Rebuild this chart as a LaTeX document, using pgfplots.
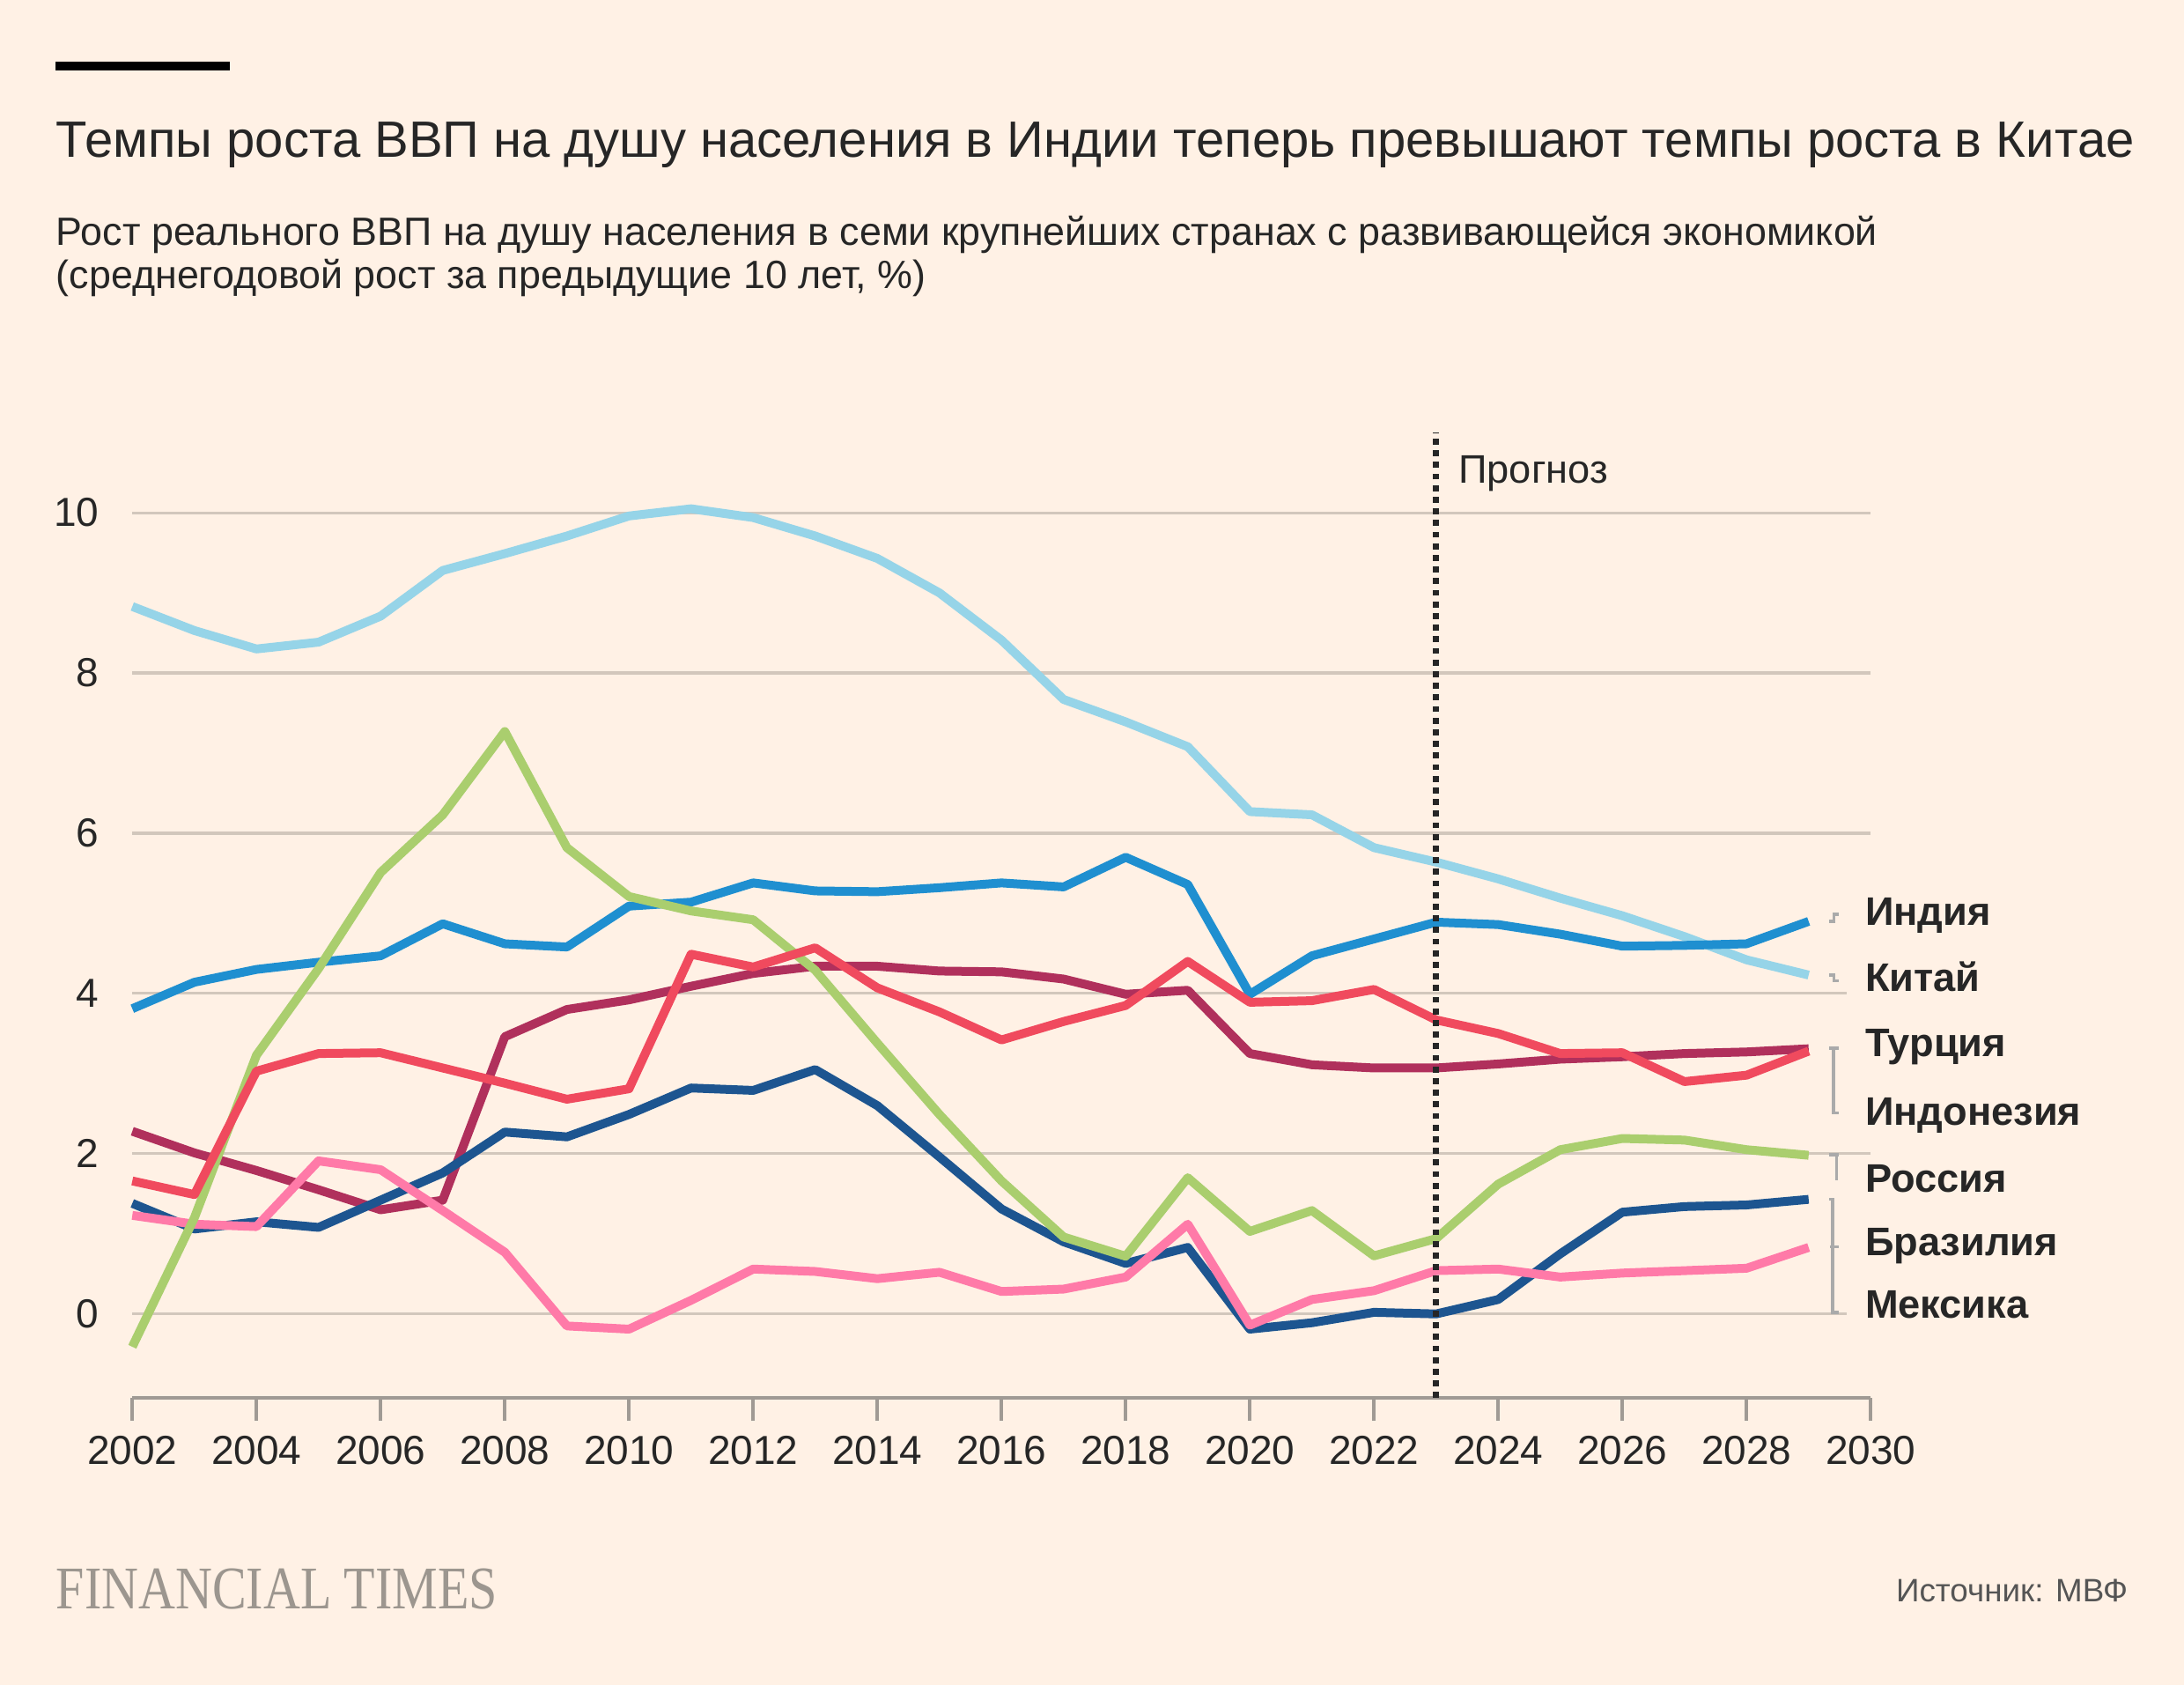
\documentclass[border=0pt]{standalone}
\usepackage{fontspec}
\setmainfont{Liberation Sans}
\newfontfamily\ftserif{Liberation Serif}
\usepackage{pgfplots}
\usepackage{pgfplotstable}
\pgfplotsset{compat=1.18}
\definecolor{bg}{HTML}{FFF1E5}
\definecolor{txt}{HTML}{262626}
\definecolor{gridc}{HTML}{D2C7BC}
\definecolor{axisc}{HTML}{A09A94}
\definecolor{conn}{HTML}{AAAAAA}
\definecolor{chinac}{HTML}{96D4E8}
\definecolor{indiac}{HTML}{1F8FD0}
\definecolor{turkeyc}{HTML}{F04A5E}
\definecolor{indoc}{HTML}{B0305C}
\definecolor{russiac}{HTML}{AACE6E}
\definecolor{mexicoc}{HTML}{1D5590}
\definecolor{brazilc}{HTML}{FF7AA8}
\definecolor{ftgray}{HTML}{9C968F}
\definecolor{srcgray}{HTML}{555555}

\pgfplotstableread{
year china india turkey indo russia mexico brazil
2002 8.83 3.81 1.66 2.28 -0.41 1.38 1.23
2003 8.53 4.14 1.49 2.01 1.20 1.06 1.12
2004 8.30 4.30 3.03 1.79 3.23 1.15 1.09
2005 8.385 4.39 3.25 1.55 4.31 1.08 1.91
2006 8.71 4.47 3.26 1.30 5.51 1.42 1.80
2007 9.28 4.87 3.07 1.42 6.23 1.76 1.29
2008 9.49 4.62 2.88 3.46 7.27 2.27 0.77
2009 9.71 4.58 2.68 3.80 5.82 2.21 -0.15
2010 9.96 5.09 2.81 3.92 5.21 2.49 -0.19
2011 10.05 5.14 4.49 4.09 5.03 2.82 0.17
2012 9.94 5.38 4.33 4.25 4.92 2.79 0.56
2013 9.71 5.28 4.57 4.34 4.29 3.05 0.53
2014 9.43 5.27 4.07 4.34 3.38 2.60 0.44
2015 9.00 5.32 3.77 4.28 2.49 1.96 0.52
2016 8.41 5.38 3.42 4.27 1.66 1.31 0.28
2017 7.67 5.33 3.65 4.18 0.96 0.90 0.31
2018 7.39 5.70 3.85 3.99 0.72 0.63 0.46
2019 7.08 5.36 4.40 4.04 1.70 0.83 1.12
2020 6.27 3.99 3.89 3.25 1.03 -0.19 -0.14
2021 6.23 4.47 3.91 3.11 1.29 -0.11 0.18
2022 5.82 4.68 4.05 3.07 0.725 0.02 0.29
2023 5.64 4.89 3.67 3.07 0.94 0.00 0.54
2024 5.43 4.86 3.50 3.12 1.62 0.18 0.56
2025 5.19 4.74 3.25 3.18 2.05 0.75 0.46
2026 4.97 4.59 3.26 3.21 2.19 1.27 0.51
2027 4.71 4.60 2.90 3.25 2.17 1.34 0.54
2028 4.42 4.62 2.98 3.27 2.05 1.36 0.57
2029 4.23 4.90 3.28 3.31 1.98 1.43 0.83
}\gdpdata

\begin{document}
\begin{tikzpicture}
\path[use as bounding box, fill=bg] (0,0) rectangle (620pt,-478.25pt);
\fill[black] (15.8pt,-17.6pt) rectangle (65.2pt,-20.0pt);
\node[anchor=base west, inner sep=0pt, text=txt, font=\fontsize{14.5}{17}\selectfont] at (15.8pt,-44.7pt) {Темпы роста ВВП на душу населения в Индии теперь превышают темпы роста в Китае};
\node[anchor=base west, inner sep=0pt, text=txt, font=\fontsize{11.2}{13}\selectfont] at (15.8pt,-69.6pt) {Рост реального ВВП на душу населения в семи крупнейших странах с развивающейся экономикой};
\node[anchor=base west, inner sep=0pt, text=txt, font=\fontsize{11.2}{13}\selectfont] at (15.8pt,-81.9pt) {(среднегодовой рост за предыдущие 10 лет, \%)};
\node[anchor=base west, inner sep=0pt, text=ftgray, font=\ftserif\fontsize{17.2}{19}\selectfont] at (15.8pt,-456.5pt) {\scalebox{0.843}[1]{FINANCIAL TIMES}};
\node[anchor=base east, inner sep=0pt, text=srcgray, font=\fontsize{9.2}{11}\selectfont] at (604.2pt,-454.7pt) {Источник: МВФ};

\begin{axis}[
  at={(37.56pt,-396.8pt)}, anchor=south west,
  scale only axis, width=493.5pt, height=274pt,
  xmin=2002, xmax=2030, ymin=-1.05, ymax=11,
  clip=false,
  axis x line=bottom, axis y line=left,
  x axis line style={draw=axisc, line width=0.9pt, -},
  y axis line style={draw=none},
  xtick={2002,2004,...,2030},
  ytick={0,2,4,6,8,10},
  tick align=outside,
  major tick length=6.5pt,
  xtick style={draw=axisc, line width=0.9pt},
  ytick style={draw=none},
  /pgf/number format/assume math mode=true,
  /pgf/number format/1000 sep={},
  ticklabel style={font=\fontsize{11.5}{13}\selectfont, text=txt},
  xticklabel style={anchor=north, inner sep=0pt, yshift=-4pt},
  yticklabel style={anchor=east, inner sep=0pt, xshift=-2.8pt},
  every axis plot/.append style={line width=2.5pt, line join=round, no markers},
]
% gridlines
\draw[gridc, line width=0.8pt] (axis cs:2002,0) -- (axis cs:2029.62,0);
\draw[gridc, line width=0.8pt] (axis cs:2002,2) -- (axis cs:2030,2);
\draw[gridc, line width=0.8pt] (axis cs:2002,4) -- (axis cs:2029.62,4);
\draw[gridc, line width=0.8pt] (axis cs:2002,6) -- (axis cs:2030,6);
\draw[gridc, line width=0.8pt] (axis cs:2002,8) -- (axis cs:2030,8);
\draw[gridc, line width=0.8pt] (axis cs:2002,10) -- (axis cs:2030,10);

\addplot[chinac] table[x=year, y=china] {\gdpdata};
\addplot[indiac] table[x=year, y=india] {\gdpdata};
\addplot[indoc] table[x=year, y=indo] {\gdpdata};
\addplot[mexicoc] table[x=year, y=mexico] {\gdpdata};
\addplot[brazilc] table[x=year, y=brazil] {\gdpdata};
\addplot[russiac] table[x=year, y=russia] {\gdpdata};
\addplot[turkeyc] table[x=year, y=turkey] {\gdpdata};

\draw[black!85, line width=1.8pt, dash pattern=on 1.7pt off 1.6pt] (axis cs:2023,-1.05) -- (axis cs:2023,11);
\node[anchor=west, inner sep=0pt, text=txt, font=\fontsize{11.3}{13}\selectfont] at (axis cs:2023.35,10.49) {Прогноз};

% connectors
\draw[conn, line width=0.9pt] (axis cs:2029.33,4.90) -| (axis cs:2029.41,4.99) -- (axis cs:2029.49,4.99);
\draw[conn, line width=0.9pt] (axis cs:2029.33,4.23) -| (axis cs:2029.41,4.16) -- (axis cs:2029.49,4.16);
\draw[conn, line width=0.9pt] (axis cs:2029.33,3.32) -- (axis cs:2029.48,3.32);
\draw[conn, line width=0.9pt] (axis cs:2029.40,3.32) -- (axis cs:2029.40,2.51) -- (axis cs:2029.48,2.51);
\draw[conn, line width=0.9pt] (axis cs:2029.33,1.99) -- (axis cs:2029.48,1.99);
\draw[conn, line width=0.9pt] (axis cs:2029.45,1.99) -- (axis cs:2029.45,1.67);
\draw[conn, line width=0.9pt] (axis cs:2029.33,1.43) -- (axis cs:2029.39,1.43) -- (axis cs:2029.39,0.02) -- (axis cs:2029.49,0.02);
\draw[conn, line width=0.9pt] (axis cs:2029.34,0.84) -- (axis cs:2029.48,0.84);

% labels
\begin{scope}[every node/.style={anchor=base west, inner sep=0pt, text=txt, font=\bfseries\fontsize{11.3}{13}\selectfont}]
\node at (axis cs:2029.9,4.85) {Индия};
\node at (axis cs:2029.9,4.03) {Китай};
\node at (axis cs:2029.9,3.21) {Турция};
\node at (axis cs:2029.9,2.35) {Индонезия};
\node at (axis cs:2029.9,1.52) {Россия};
\node at (axis cs:2029.9,0.73) {Бразилия};
\node at (axis cs:2029.9,-0.05) {Мексика};
\end{scope}
\end{axis}
\end{tikzpicture}
\end{document}
